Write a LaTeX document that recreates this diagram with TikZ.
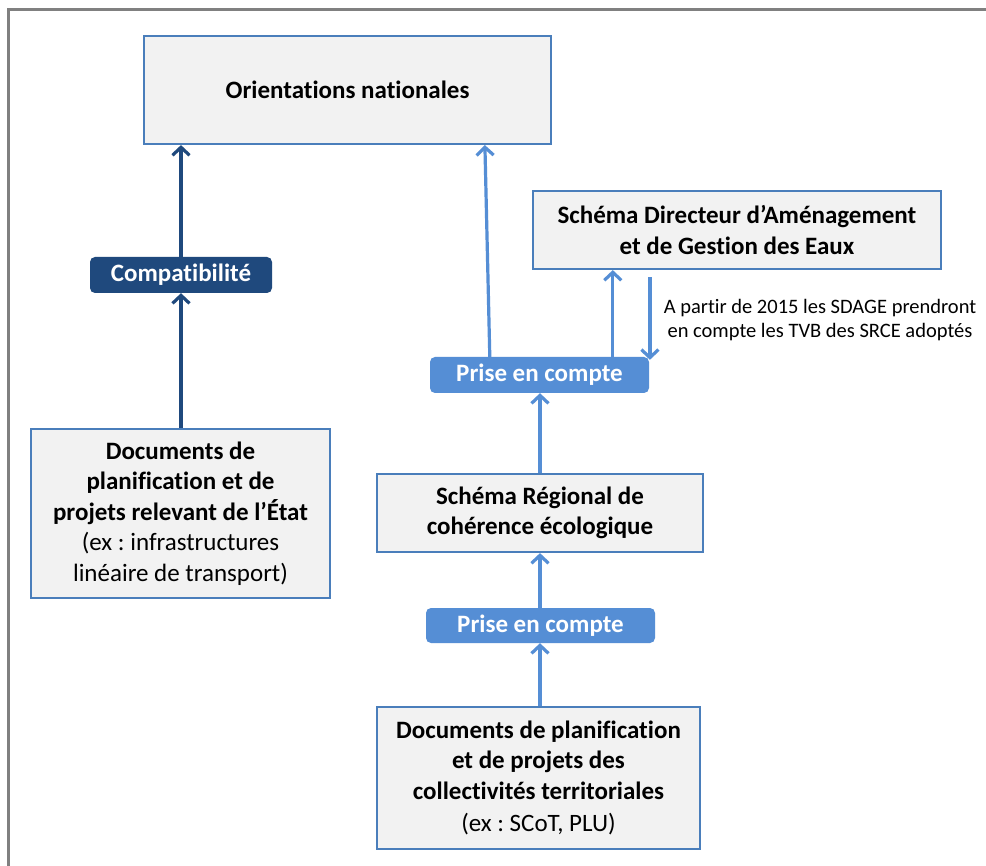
\documentclass[tikz,border=0pt]{standalone}
\usepackage{fontspec}
\setmainfont[Ligatures=NoCommon]{Carlito}
\frenchspacing
\usetikzlibrary{arrows.meta,calc}
\definecolor{boxline}{HTML}{4A7EBB}
\definecolor{boxfill}{HTML}{F2F2F2}
\definecolor{lightb}{HTML}{558ED5}
\definecolor{darkb}{HTML}{1F497D}
\definecolor{framegray}{HTML}{808080}
\begin{document}
\begin{tikzpicture}[x=1pt,y=-1pt,
  mainbox/.style={draw=boxline, line width=2.2pt, fill=boxfill, align=center, inner sep=0pt,
    font=\fontsize{25}{30.5}\selectfont\bfseries},
  tagbox/.style={rounded corners=5pt, text=white, inner sep=0pt, minimum height=36pt,
    font=\fontsize{25}{30.5}\selectfont\bfseries},
  conn/.style={line width=3.2pt, -{Straight Barb[length=8pt,width=17pt]}},
  notetext/.style={align=center, font=\fontsize{20.5}{24.5}\selectfont, inner sep=0pt}]
\useasboundingbox (0,0) rectangle (986,866);
\fill[white] (0,0) rectangle (986,866);
\draw[framegray, line width=2.4pt] (8.5,866) -- (8.5,9.5) -- (986,9.5);

\node[mainbox, minimum width=407pt, minimum height=108pt] (orient) at (347.5,90) {Orientations nationales};
\node[mainbox, minimum width=408pt, minimum height=78pt] (sdage) at (737,230) {Schéma Directeur d’Aménagement\\et de Gestion des Eaux};
\node[tagbox, fill=darkb, minimum width=182pt] (compat) at (181,275) {Compatibilité};
\node[mainbox, minimum width=299pt, minimum height=169pt] (docs1) at (180.5,513.5)
  {Documents de\\planification et de\\projets relevant de l’État\\\mdseries (ex : infrastructures\\\mdseries linéaire de transport)};
\node[tagbox, fill=lightb, minimum width=219pt] (prise1) at (539.5,375) {Prise en compte};
\node[mainbox, minimum width=326pt, minimum height=78pt] (srce) at (540,513) {Schéma Régional de\\cohérence écologique};
\node[tagbox, fill=lightb, minimum width=229pt, minimum height=35pt] (prise2) at (540.5,625.5) {Prise en compte};
\node[mainbox, minimum width=323pt, minimum height=142pt] (docs2) at (538.5,778)
  {Documents de planification\\et de projets des\\collectivités territoriales\\[2pt]\mdseries (ex : SCoT, PLU)};
\node[notetext] (note) at (820,320) {A partir de 2015 les SDAGE prendront\\en compte les TVB des SRCE adoptés};

% dark connectors
\draw[conn, darkb] (docs1.north -| compat.south) -- (compat.south);
\draw[conn, darkb] (compat.north) -- (orient.south -| compat.north);
% light connectors
\coordinate (p1a) at ($(prise1.north west)+(60,0)$);
\coordinate (ora) at ($(orient.south west)+(342,0)$);
\draw[conn, lightb] (p1a) -- (ora);
\coordinate (p1b) at ($(prise1.north west)+(183,0)$);
\draw[conn, lightb] (p1b) -- (sdage.south -| p1b);
\coordinate (dstart) at ($(sdage.south west)+(118,7)$);
\coordinate (dend) at ($(prise1.north east)+(2,3)$);
\draw[conn, lightb] (dstart) -- (dstart |- dend);
\draw[conn, lightb] (srce.north) -- (prise1.south -| srce.north);
\draw[conn, lightb] (prise2.north -| srce.south) -- (srce.south);
\draw[conn, lightb] (docs2.north -| srce.south) -- (prise2.south -| srce.south);
\end{tikzpicture}
\end{document}
